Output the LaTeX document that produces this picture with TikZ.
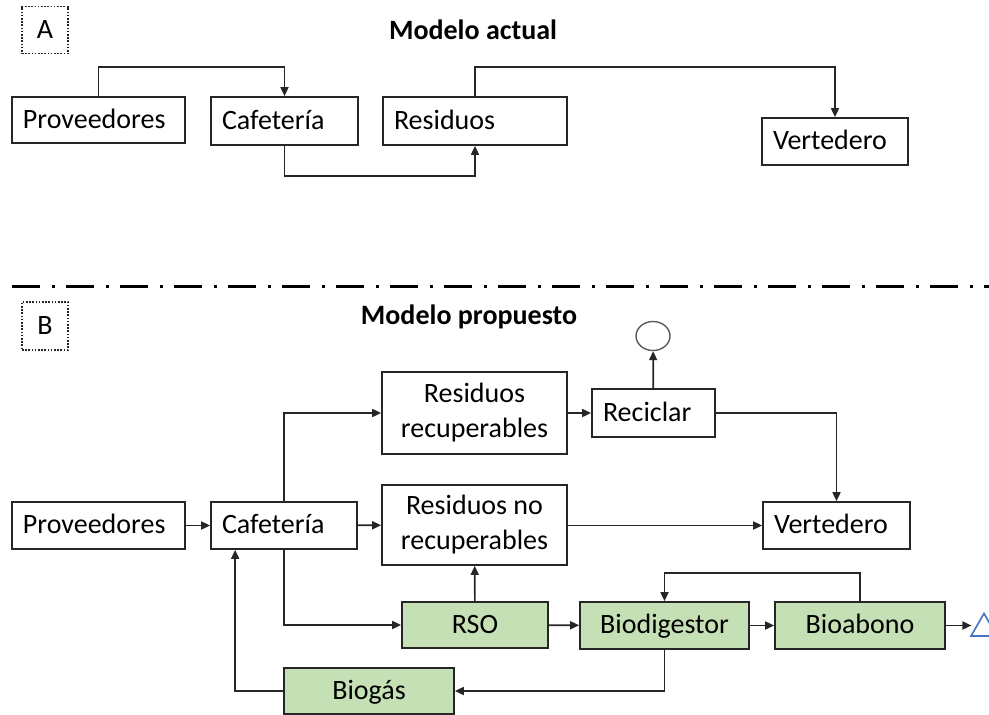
\documentclass[tikz,border=0pt]{standalone}
\usepackage{fontspec}
\setmainfont{Carlito}
\usetikzlibrary{arrows.meta,positioning,calc,shapes.geometric}
\definecolor{verde}{HTML}{C5E0B4}
\definecolor{azul}{HTML}{4472C4}

\begin{document}
\begin{tikzpicture}[x=1pt,y=-1pt,
  box/.style={draw=black!85,line width=1.7pt,inner sep=0pt,font=\fontsize{28}{35}\selectfont},
  unalinea/.style={text height=21pt,text depth=5pt},
  lbox/.style={box,unalinea,inner xsep=11pt,text width=#1,align=left},
  cbox/.style={box,align=center},
  gbox/.style={cbox,unalinea,fill=verde},
  etiq/.style={draw=black!85,dash pattern=on 1.6pt off 1.6pt,line width=1.6pt,minimum width=46pt,minimum height=47pt,font=\fontsize{28}{34}\selectfont},
  titulo/.style={font=\fontsize{28}{34}\selectfont\bfseries},
  flow/.style={draw=black!85,line width=1.7pt,-{Triangle[length=9pt,width=8pt]}}]
\useasboundingbox (0,0) rectangle (989,715);

% --- A: modelo actual
\node[etiq] (labA) at (45,30) {A};
\node[titulo] (titA) at (473,30) {Modelo actual};
\node[lbox=151pt,minimum height=46pt] (provA) at (98.5,120) {Proveedores};
\node[lbox=125pt,minimum height=48pt] (cafA) at (284.5,121) {Cafetería};
\node[lbox=162pt,minimum height=48pt] (resA) at (475,121) {Residuos};
\node[lbox=124pt,minimum height=47pt] (verA) at (835,141.5) {Vertedero};

\draw[flow] (provA.north) -- ++(0,-29) -| (cafA.north);
\draw[flow] (cafA.south) -- ++(0,30) -| (resA.south);
\draw[flow] (resA.north) -- ++(0,-29) -| (verA.north);

% separador
\draw[line width=3pt,dash pattern=on 28pt off 12pt on 3pt off 11pt] (12,286) -- (989,286);

% --- B: modelo propuesto
\node[etiq,minimum height=48pt] (labB) at (45,326) {B};
\node[titulo] (titB) at (469,317) {Modelo propuesto};
\node[ellipse,draw=black!65,line width=1.4pt,minimum width=34pt,minimum height=29pt,inner sep=0pt] (circ) at (653,336) {};
\node[lbox=101pt,minimum height=48pt] (recic) at (653.5,413) {Reciclar};
\node[cbox,minimum width=185pt,minimum height=82pt] (resRec) at (474.5,413) {Residuos\\recuperables};
\node[lbox=125pt,minimum height=47pt] (verB) at (836.5,525.5) {Vertedero};
\node[cbox,minimum width=185pt,minimum height=80pt] (resNo) at (474.5,525) {Residuos no\\recuperables};
\node[lbox=124pt,minimum height=47pt] (cafB) at (284,525.5) {Cafetería};
\node[lbox=151pt,minimum height=47pt] (provB) at (98.5,525.5) {Proveedores};
\node[gbox,minimum width=146pt,minimum height=46pt] (rso) at (475,625) {RSO};
\node[gbox,minimum width=169pt,minimum height=47pt] (biodig) at (664.5,625.5) {Biodigestor};
\node[gbox,minimum width=170pt,minimum height=47pt] (bioab) at (860,625.5) {Bioabono};
\node[gbox,minimum width=170pt,minimum height=46pt] (biogas) at (369,691) {Biogás};
\node[regular polygon,regular polygon sides=3,draw=azul,line width=1.6pt,minimum size=30pt,inner sep=0pt] (tri) at (984,628.5) {};

\draw[flow] (provB) -- (cafB);
\draw[flow] (cafB) -- (resNo);
\draw[flow] (cafB.north) |- (resRec.west);
\draw[flow] (resRec) -- (recic);
\draw[flow] (recic) -- (circ);
\draw[flow] (recic.east) -| (verB.north);
\draw[flow] (resNo.east |- verB.west) -- (verB.west);
\draw[flow] (cafB.south) |- (rso.west);
\draw[flow] (rso) -- (resNo);
\draw[flow] (rso) -- (biodig);
\draw[flow] (biodig) -- (bioab);
\draw[flow,shorten >=3pt] (bioab.east) -- (tri.west |- bioab.east);
\draw[flow] (bioab.north) -- ++(0,-28) -| (biodig.north);
\draw[flow] (biodig.south) |- (biogas.east);
\draw[flow] (biogas.west) -| ([xshift=25pt]cafB.south west);
\end{tikzpicture}
\end{document}
